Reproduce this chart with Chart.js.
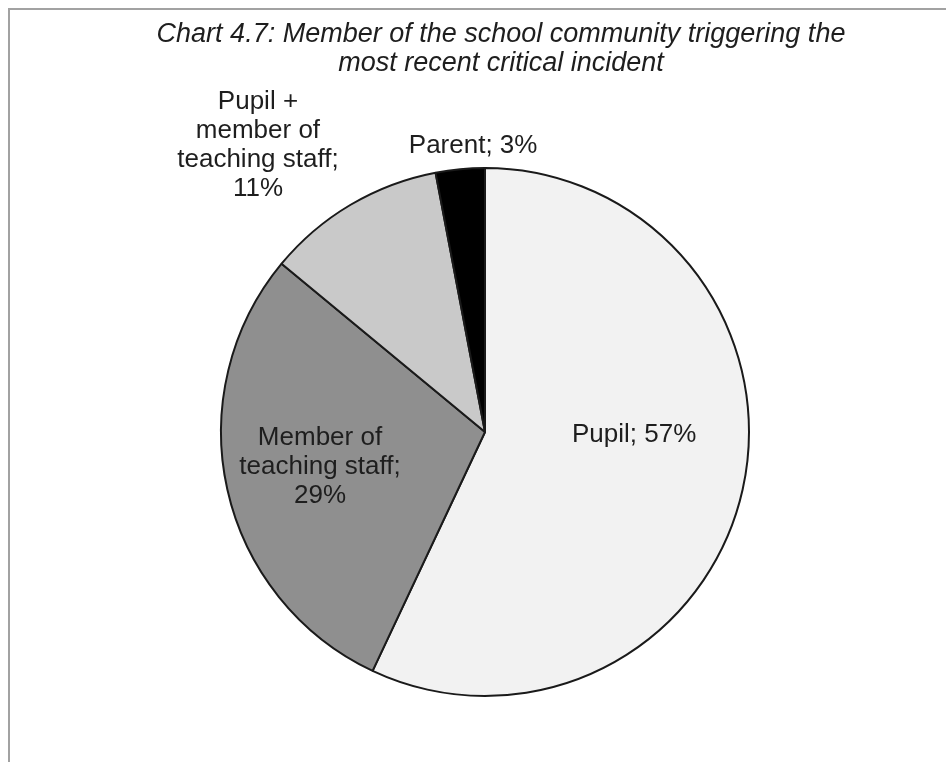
<!DOCTYPE html>
<html>
<head>
<meta charset="utf-8">
<script src="https://cdn.jsdelivr.net/npm/chart.js@4/dist/chart.umd.min.js"></script>
<style>
  html, body { margin: 0; padding: 0; background: #ffffff; }
  #wrap { position: relative; width: 946px; height: 762px; overflow: hidden; }
  #frame { position: absolute; left: 8px; top: 8px; width: 1000px; height: 800px;
           border-left: 2px solid #a2a2a2; border-top: 2px solid #a2a2a2; box-sizing: border-box; }
  canvas { position: absolute; left: 0; top: 0; }
</style>
</head>
<body>
<div id="wrap">
  <div id="frame"></div>
  <canvas id="c" width="946" height="762"></canvas>
</div>
<script>
// Who triggered the most recent critical incident (share of schools, %)
const categories = ['Pupil', 'Member of teaching staff', 'Pupil + member of teaching staff', 'Parent'];
const shares = [57, 29, 11, 3];
const titleLines = ['Chart 4.7: Member of the school community triggering the', 'most recent critical incident'];
// Label text broken into lines as printed next to each slice
const labelLines = [
  ['Pupil; 57%'],
  ['Member of', 'teaching staff;', '29%'],
  ['Pupil +', 'member of', 'teaching staff;', '11%'],
  ['Parent; 3%']
];

// Slice styling
const sliceColors = ['#f2f2f2', '#8f8f8f', '#c9c9c9', '#000000'];
// Label anchor relative to the pie centre, in units of the pie radius
const labelAnchor = [
  [0.565, 0.01],
  [-0.625, 0.133],
  [-0.86, -1.085],
  [-0.045, -1.085]
];

const FONT = '"Liberation Sans", Arial, sans-serif';

const titlePlugin = {
  id: 'chartTitle',
  afterDraw(chart) {
    const ctx = chart.ctx;
    ctx.save();
    ctx.fillStyle = '#1e1e1e';
    ctx.font = 'italic 27px ' + FONT;
    ctx.textAlign = 'center';
    ctx.textBaseline = 'alphabetic';
    titleLines.forEach((t, i) => ctx.fillText(t, 501, 42 + i * 29));
    ctx.restore();
  }
};

const labelPlugin = {
  id: 'sliceLabels',
  afterDatasetsDraw(chart) {
    const ctx = chart.ctx;
    const meta = chart.getDatasetMeta(0);
    ctx.save();
    ctx.fillStyle = '#1e1e1e';
    ctx.font = '26px ' + FONT;
    ctx.textAlign = 'center';
    ctx.textBaseline = 'middle';
    const lh = 29;
    meta.data.forEach((arc, i) => {
      const p = arc.getProps(['x', 'y', 'outerRadius'], true);
      const cx = p.x + labelAnchor[i][0] * p.outerRadius;
      const cy = p.y + labelAnchor[i][1] * p.outerRadius;
      const lines = labelLines[i];
      const y0 = cy - (lines.length - 1) * lh / 2;
      lines.forEach((t, j) => ctx.fillText(t, cx, y0 + j * lh));
    });
    ctx.restore();
  }
};

new Chart(document.getElementById('c'), {
  type: 'pie',
  data: {
    labels: categories,
    datasets: [{
      data: shares,
      backgroundColor: sliceColors,
      borderColor: '#1a1a1a',
      borderWidth: 2
    }]
  },
  options: {
    responsive: false,
    animation: false,
    layout: { padding: { left: 24, right: 0, top: 167, bottom: 65 } },
    plugins: {
      legend: { display: false },
      tooltip: { enabled: false },
      title: { display: false }
    }
  },
  plugins: [titlePlugin, labelPlugin]
});
</script>
</body>
</html>
